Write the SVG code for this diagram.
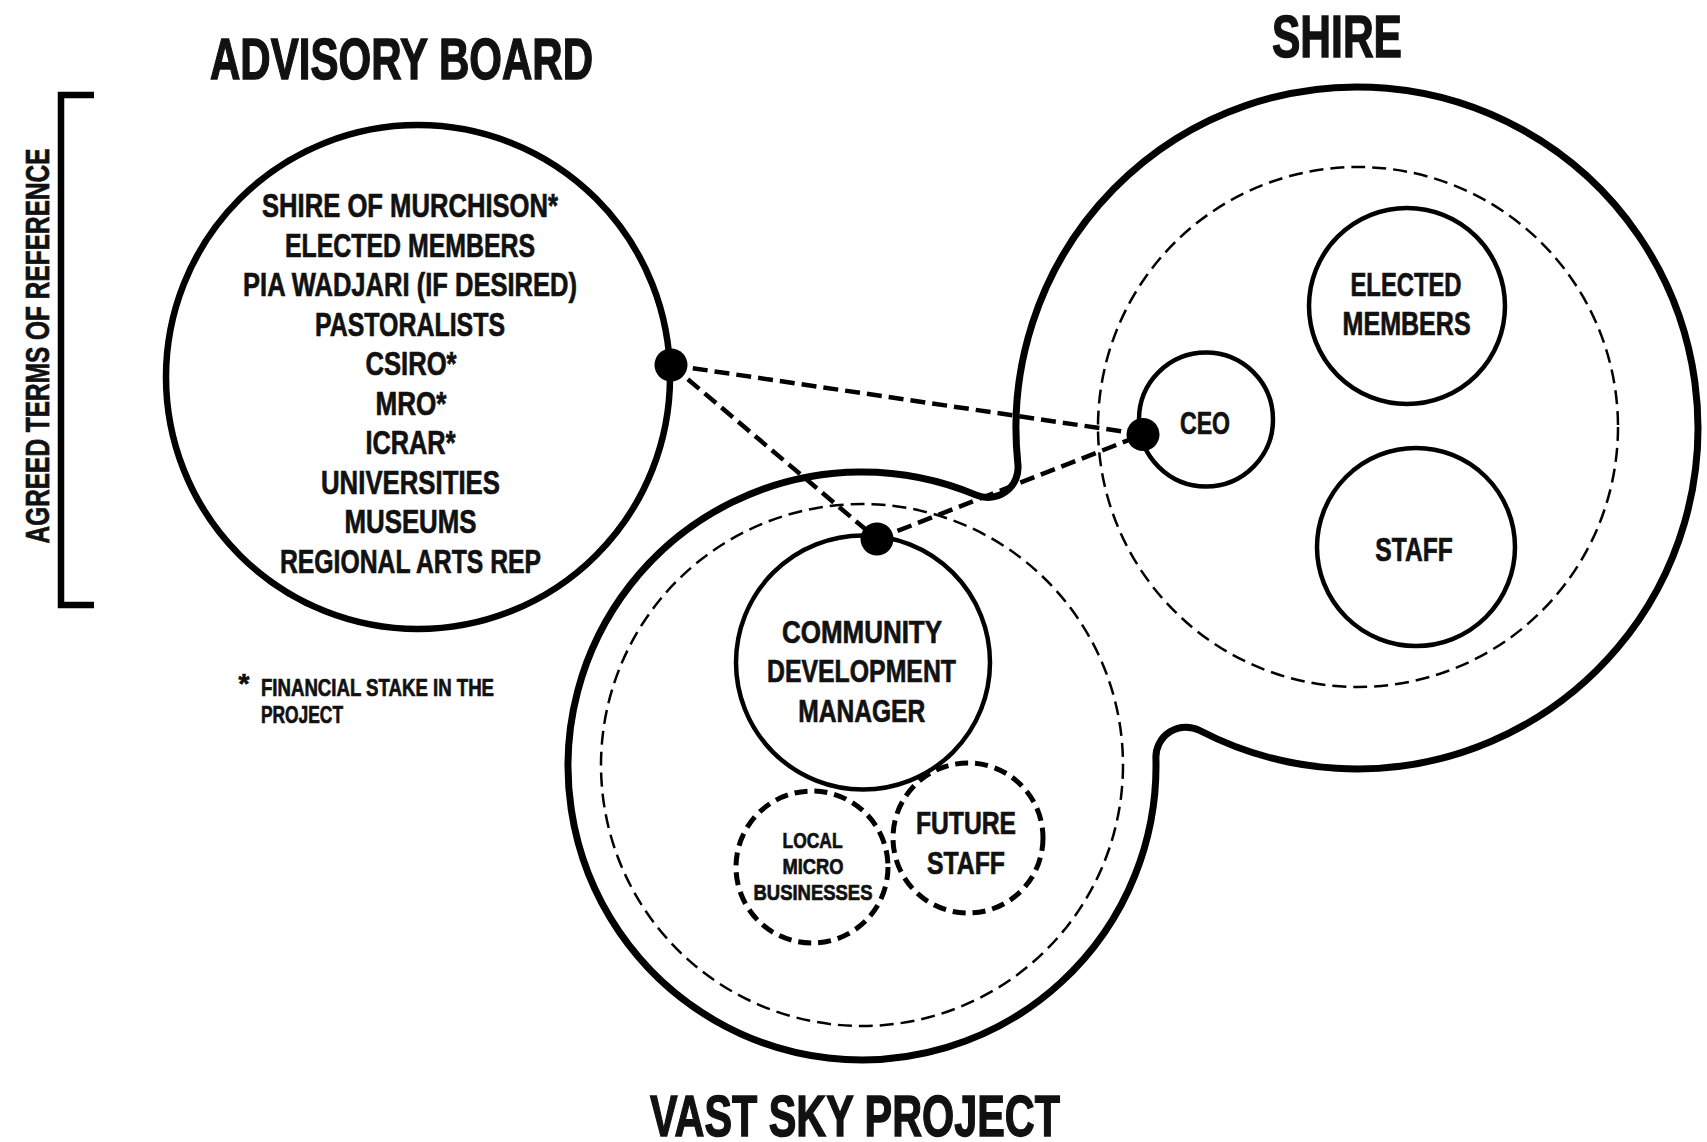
<svg xmlns="http://www.w3.org/2000/svg" width="1707" height="1142" viewBox="0 0 1707 1142">
<style>
.t{font-family:'Liberation Sans Narrow','Liberation Sans',Arial,sans-serif;font-weight:700;fill:#111;text-anchor:middle;stroke:#111;stroke-width:0.7}
.big{stroke-width:1.4}
.l{text-anchor:start}
.outline{fill:none;stroke:#000;stroke-width:7;stroke-linejoin:round}
.solid{fill:none;stroke:#000;stroke-width:4.5}
.thindash{fill:none;stroke:#000;stroke-width:2.5;stroke-dasharray:14 7}
.thickdash{fill:none;stroke:#000;stroke-width:5;stroke-dasharray:13 7}
.conn{stroke:#000;stroke-width:4.5;stroke-dasharray:15 7;fill:none}
.dot{fill:#000}
</style>
<rect width="1707" height="1142" fill="#fff"/>

<g id="titles">
<text class="t big" x="401.5" y="79" font-size="58" textLength="383" lengthAdjust="spacingAndGlyphs">ADVISORY BOARD</text>
<text class="t big" x="1337" y="57" font-size="59" textLength="130" lengthAdjust="spacingAndGlyphs">SHIRE</text>
<text class="t big" x="855" y="1135.5" font-size="57" textLength="410" lengthAdjust="spacingAndGlyphs">VAST SKY PROJECT</text>
</g>

<g id="terms-of-reference">
<path d="M94,95 H61 V605 H94" fill="none" stroke="#000" stroke-width="6.5"/>
<text class="t" transform="translate(49,346) rotate(-90)" x="0" y="0" font-size="33" textLength="395" lengthAdjust="spacingAndGlyphs">AGREED TERMS OF REFERENCE</text>
</g>

<g id="advisory-board">
<circle cx="418" cy="377" r="252" fill="none" stroke="#000" stroke-width="6.5"/>
<g font-size="34">
<text class="t" x="410" y="217" textLength="296" lengthAdjust="spacingAndGlyphs">SHIRE OF MURCHISON*</text>
<text class="t" x="410" y="256.5" textLength="250" lengthAdjust="spacingAndGlyphs">ELECTED MEMBERS</text>
<text class="t" x="410" y="296" textLength="334" lengthAdjust="spacingAndGlyphs">PIA WADJARI (IF DESIRED)</text>
<text class="t" x="410" y="335.5" textLength="190" lengthAdjust="spacingAndGlyphs">PASTORALISTS</text>
<text class="t" x="411" y="375" textLength="91" lengthAdjust="spacingAndGlyphs">CSIRO*</text>
<text class="t" x="411" y="414.5" textLength="71" lengthAdjust="spacingAndGlyphs">MRO*</text>
<text class="t" x="410.5" y="454" textLength="90" lengthAdjust="spacingAndGlyphs">ICRAR*</text>
<text class="t" x="410.5" y="493.5" textLength="179" lengthAdjust="spacingAndGlyphs">UNIVERSITIES</text>
<text class="t" x="410.5" y="533" textLength="132" lengthAdjust="spacingAndGlyphs">MUSEUMS</text>
<text class="t" x="410.5" y="572.5" textLength="261" lengthAdjust="spacingAndGlyphs">REGIONAL ARTS REP</text>
</g>
</g>

<g id="footnote">
<text class="t" x="244" y="693" font-size="28">*</text>
<text class="t l" x="261" y="695.7" font-size="24" textLength="233" lengthAdjust="spacingAndGlyphs">FINANCIAL STAKE IN THE</text>
<text class="t l" x="261" y="722.6" font-size="24" textLength="82" lengthAdjust="spacingAndGlyphs">PROJECT</text>
</g>

<g id="shire-and-project-outline">
<path class="outline" d="M976.4,495.1 A294,294 0 1 0 1155.9,757.9 A30,30 0 0 1 1199.7,730.5 A341,341 0 1 0 1017.9,464.3 A30,30 0 0 1 976.4,495.1 Z"/>
</g>

<g id="shire">
<circle class="thindash" cx="1358" cy="427" r="260"/>
</g>

<g id="ceo">
<circle class="solid" cx="1206" cy="419.5" r="67"/>
<text class="t" x="1205" y="433.5" font-size="31.5" textLength="50" lengthAdjust="spacingAndGlyphs">CEO</text>
</g>

<g id="elected-members">
<circle class="solid" cx="1407" cy="306" r="98"/>
<text class="t" x="1406" y="296.4" font-size="33" textLength="111" lengthAdjust="spacingAndGlyphs">ELECTED</text>
<text class="t" x="1406.6" y="335.3" font-size="33" textLength="128" lengthAdjust="spacingAndGlyphs">MEMBERS</text>
</g>

<g id="staff">
<circle class="solid" cx="1416" cy="547" r="99"/>
<text class="t" x="1414" y="561" font-size="33" textLength="77.5" lengthAdjust="spacingAndGlyphs">STAFF</text>
</g>

<g id="vast-sky-project">
<circle class="thindash" cx="862" cy="765" r="261"/>
</g>

<g id="community-development-manager">
<circle class="solid" cx="863" cy="662.5" r="127"/>
<text class="t" x="862" y="642.6" font-size="31.5" textLength="160" lengthAdjust="spacingAndGlyphs">COMMUNITY</text>
<text class="t" x="861.5" y="682" font-size="31.5" textLength="189" lengthAdjust="spacingAndGlyphs">DEVELOPMENT</text>
<text class="t" x="861.7" y="722" font-size="31.5" textLength="127" lengthAdjust="spacingAndGlyphs">MANAGER</text>
</g>

<g id="local-micro-businesses">
<circle class="thickdash" cx="812" cy="867" r="76"/>
<text class="t" x="812.6" y="848" font-size="22.5" textLength="60" lengthAdjust="spacingAndGlyphs">LOCAL</text>
<text class="t" x="813" y="873.5" font-size="22.5" textLength="61" lengthAdjust="spacingAndGlyphs">MICRO</text>
<text class="t" x="813" y="900" font-size="22.5" textLength="119" lengthAdjust="spacingAndGlyphs">BUSINESSES</text>
</g>

<g id="future-staff">
<circle class="thickdash" cx="968" cy="838" r="75"/>
<text class="t" x="966" y="833.5" font-size="31.5" textLength="100" lengthAdjust="spacingAndGlyphs">FUTURE</text>
<text class="t" x="966" y="873.5" font-size="31.5" textLength="78" lengthAdjust="spacingAndGlyphs">STAFF</text>
</g>

<g id="connectors">
<line class="conn" x1="671" y1="365" x2="1143" y2="434.5"/>
<line class="conn" x1="671" y1="365" x2="877" y2="539"/>
<line class="conn" x1="877" y1="539" x2="1143" y2="434.5"/>
<circle class="dot" cx="671" cy="365" r="16.5"/>
<circle class="dot" cx="877" cy="539" r="16.5"/>
<circle class="dot" cx="1143" cy="434.5" r="16.5"/>
</g>
</svg>
